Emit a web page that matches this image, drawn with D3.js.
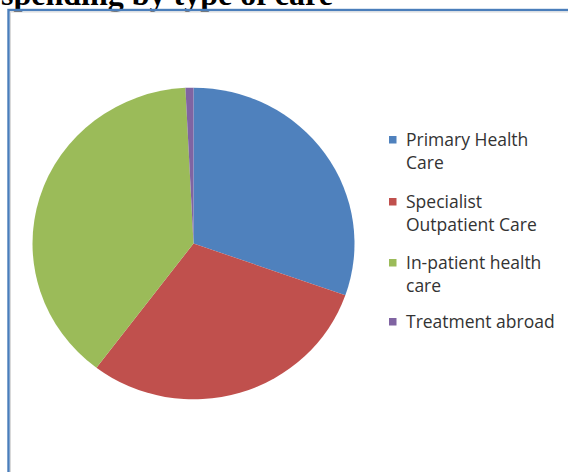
<!DOCTYPE html>
<html><head><meta charset="utf-8">
<script src="https://cdn.jsdelivr.net/npm/d3@7"></script>
<style>html,body{margin:0;padding:0;background:#fff;overflow:hidden}</style>
</head><body>
<svg id="c" width="568" height="472"></svg>
<script>
const categories = ["Primary Health Care", "Specialist Outpatient Care", "In-patient health care", "Treatment abroad"];
const legendLines = [["Primary Health", "Care"], ["Specialist", "Outpatient Care"], ["In-patient health", "care"], ["Treatment abroad"]];
const values = [30.4, 29.9, 38.9, 0.8];
const colors = ["#4F81BD", "#C0504D", "#9BBB59", "#8064A2"];
const title = "spending by type of care";

const svg = d3.select("#c");
svg.append("rect").attr("width", 568).attr("height", 472).attr("fill", "#fff");

// title (cut off at top, as in the reference)
svg.append("text").attr("x", 1).attr("y", 5)
  .attr("font-family", "Liberation Serif").attr("font-weight", "bold").attr("font-size", 32)
  .attr("fill", "#000").text(title);

// frame
svg.append("rect").attr("x", 8.5).attr("y", 10).attr("width", 600).attr("height", 600)
  .attr("fill", "none").attr("stroke", "#4A7EBB").attr("stroke-width", 2.4);
svg.append("rect").attr("x", 10.5).attr("y", 12).attr("width", 600).attr("height", 600)
  .attr("fill", "none").attr("stroke", "#d9d9d9").attr("stroke-width", 1);

const cx = 193.5, cy = 243.5, r = 161;
const pie = d3.pie().sort(null).value(d => d)(values);
const arc = d3.arc().innerRadius(0).outerRadius(r);
const g = svg.append("g").attr("transform", `translate(${cx},${cy}) scale(1,0.968)`);
g.selectAll("path").data(pie).join("path")
  .attr("d", arc).attr("fill", (d, i) => colors[i]);

const lg = svg.append("g");
categories.forEach((c, i) => {
  const yy = [140, 202, 263, 322][i];
  lg.append("rect").attr("x", 389).attr("y", yy - 4).attr("width", 7.5).attr("height", 7.5).attr("fill", colors[i]);
  legendLines[i].forEach((ln, j) => {
    lg.append("text").attr("x", 406).attr("y", yy + j * 22.5 + 6)
      .attr("font-family", "Open Sans").attr("font-size", 17.5).attr("fill", "#333333")
      .text(ln);
  });
});
</script>
</body></html>
